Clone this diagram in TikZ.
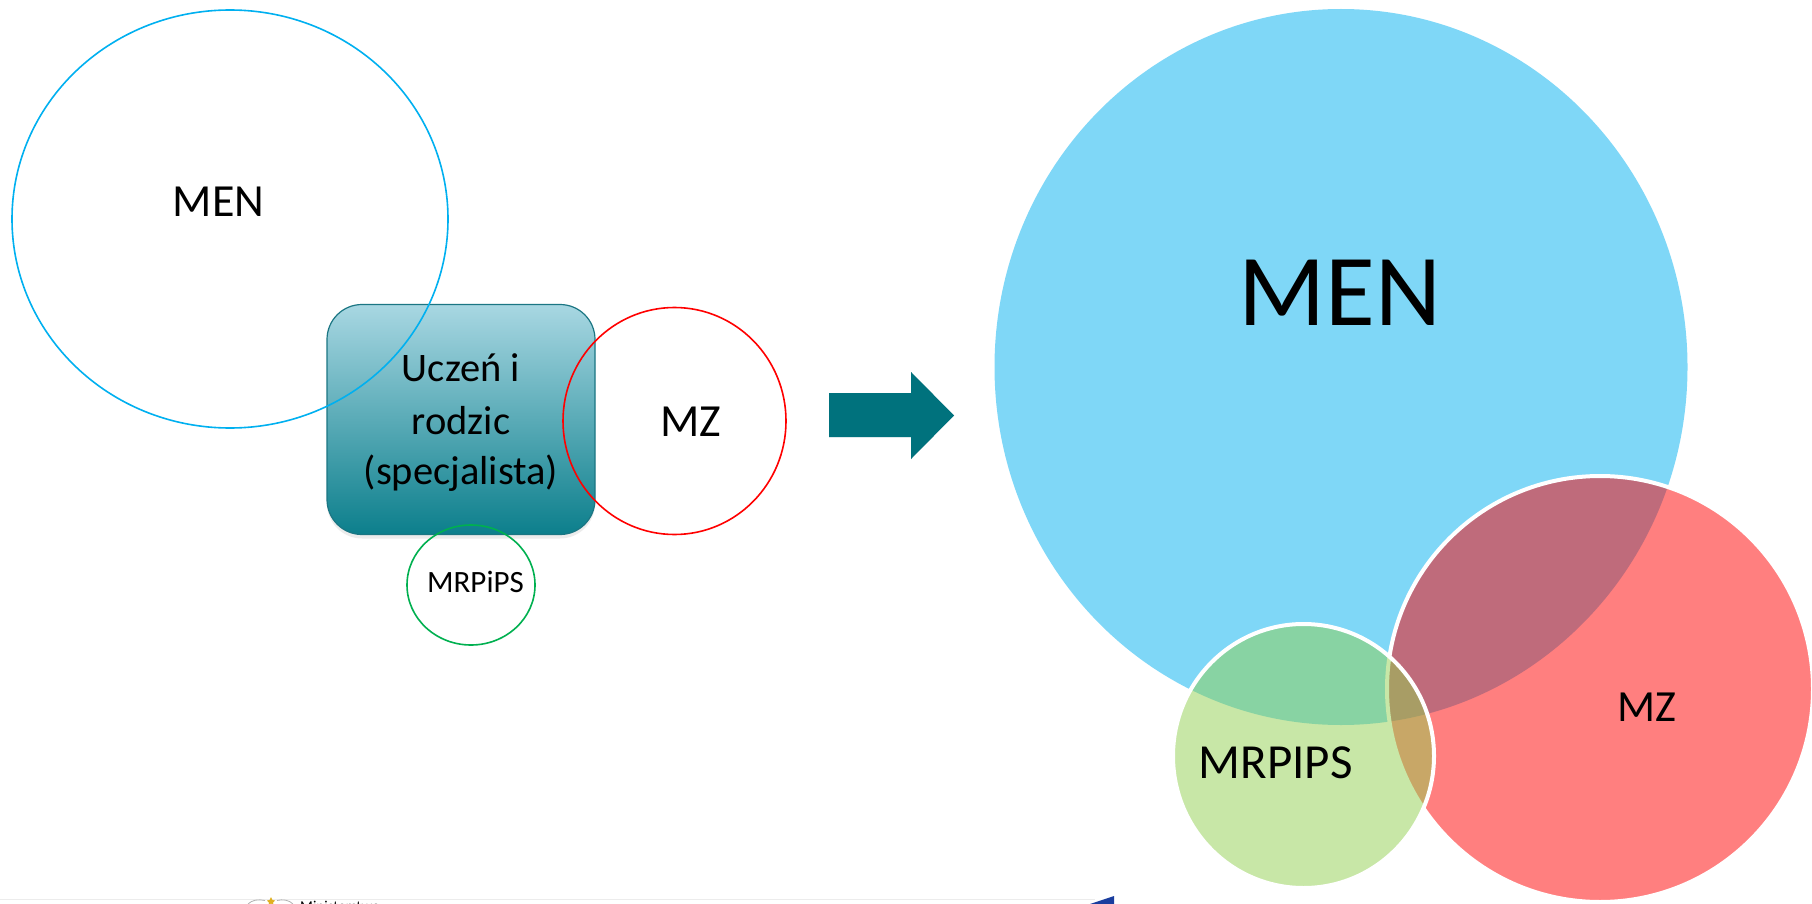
\documentclass[tikz,border=0pt]{standalone}
\usepackage{fontspec}
\setmainfont{Carlito}
\usetikzlibrary{shapes.geometric,shadows}
\definecolor{menblue}{HTML}{00B0F0}
\definecolor{mzred}{HTML}{FF0000}
\definecolor{mrgreen}{HTML}{92D050}
\definecolor{leftgreen}{HTML}{00B050}
\definecolor{boxtop}{HTML}{A8D7E2}
\definecolor{boxbot}{HTML}{0C7F8C}
\definecolor{boxedge}{HTML}{1B7683}
\definecolor{arrowteal}{HTML}{00727D}
\definecolor{logoblue}{HTML}{1A3D9E}
\definecolor{logogold}{HTML}{E0B020}
\tikzset{
  outlinecirc/.style={ellipse, inner sep=0pt, line width=1.6pt, fill=none},
  venn/.style={ellipse, inner sep=0pt, fill opacity=0.5},
  vennedge/.style={draw=white, line width=4pt, draw opacity=1},
  lbl/.style={anchor=base, inner sep=0pt, text=black},
}
\begin{document}
\begin{tikzpicture}[x=1pt,y=-1pt]
\useasboundingbox (0,0) rectangle (1812,904);
\clip (0,0) rectangle (1812,904);
\fill[white] (0,0) rectangle (1812,904);

% ---------- left part ----------
\node[rectangle, rounded corners=35pt, minimum width=268pt, minimum height=230pt,
      top color=boxtop, bottom color=boxbot, draw=boxedge, line width=1.2pt,
      drop shadow={opacity=0.15, shadow xshift=0pt, shadow yshift=-4pt}] (box) at (461,419.5) {};
\node[lbl, font=\fontsize{40.5}{48}\selectfont] (t1) at (461,381) {Uczeń i};
\node[lbl, font=\fontsize{40.5}{48}\selectfont] (t2) at (461,434) {rodzic};
\node[lbl, font=\fontsize{40.5}{48}\selectfont] (t3) at (461,484) {(specjalista)};

\node[outlinecirc, draw=menblue, minimum width=436pt, minimum height=418pt] (lmen) at (230,219) {};
\node[outlinecirc, draw=mzred, minimum width=223pt, minimum height=227pt] (lmz) at (674.5,421) {};
\node[outlinecirc, draw=leftgreen, minimum width=128pt, minimum height=120pt] (lmr) at (471,585) {};

\node[lbl, font=\fontsize{46}{52}\selectfont] (lmentxt) at (218.5,216.5) {MEN};
\node[lbl, font=\fontsize{46}{52}\selectfont] (lmztxt) at (691,436) {MZ};
\node[lbl, font=\fontsize{31}{36}\selectfont] (lmrtxt) at (475.5,592) {MRPiPS};

% ---------- arrow ----------
\coordinate (a1) at (829,393);
\coordinate (a2) at (911,393);
\coordinate (a3) at (911,372);
\coordinate (a4) at (954,415.5);
\coordinate (a5) at (911,459);
\coordinate (a6) at (911,437);
\coordinate (a7) at (829,437);
\fill[black, opacity=0.16, shift={(3,4)}] (a1) -- (a2) -- (a3) -- (a4) -- (a5) -- (a6) -- (a7) -- cycle;
\fill[arrowteal] (a1) -- (a2) -- (a3) -- (a4) -- (a5) -- (a6) -- (a7) -- cycle;

% ---------- right part ----------
\node[venn, fill=menblue, minimum width=693pt, minimum height=716pt] (rmen) at (1341,367) {};
\node[venn, vennedge, fill=mzred, minimum width=426pt, minimum height=426pt] (rmz) at (1600,689) {};
\node[venn, vennedge, fill=mrgreen, minimum width=261pt, minimum height=264pt] (rmr) at (1303.5,756) {};

\node[lbl, font=\fontsize{102}{110}\selectfont] (rmentxt) at (1340,325) {MEN};
\node[lbl, font=\fontsize{44.5}{50}\selectfont] (rmztxt) at (1646.5,721) {MZ};
\node[lbl, font=\fontsize{49}{54}\selectfont] (rmrtxt) at (1275.5,778) {MRPIPS};

% ---------- footer fragments ----------
\draw[gray!15, line width=0.8pt] (0,899.5) -- (1095,899.5);
\draw[gray!60, line width=0.8pt] (248,904) .. controls (252,900) and (258,899) .. (265,900.5);
\draw[gray!60, line width=0.8pt] (293,904) .. controls (289,900) and (283,899) .. (277,900.5);
\fill[logogold] (271,897) -- (272.5,900) -- (275,900.5) -- (273,902.5) -- (273.5,905) -- (271,903.5) -- (268.5,905) -- (269,902.5) -- (267,900.5) -- (269.5,900) -- cycle;
\node[anchor=north west, inner sep=0pt, font=\fontsize{15}{18}\selectfont] (logotxt) at (300,900.5) {Ministerstwo};
\fill[logoblue] (1090,904) -- (1114,896) -- (1114,904) -- cycle;
\end{tikzpicture}
\end{document}
